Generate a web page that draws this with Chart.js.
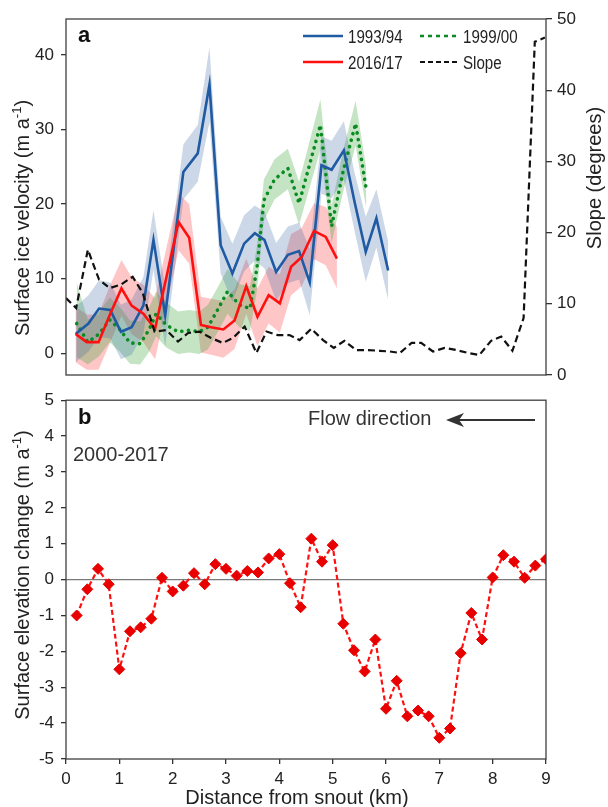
<!DOCTYPE html>
<html>
<head>
<meta charset="utf-8">
<script src="https://cdn.jsdelivr.net/npm/chart.js@4.4.1/dist/chart.umd.min.js"></script>
<style>
  html, body { margin: 0; padding: 0; background: #fff; }
  #wrap { position: relative; width: 608px; height: 807px; overflow: hidden; }
  #chartA { position: absolute; left: 0; top: 0; }
  #chartB { position: absolute; left: 0; top: 383px; }
</style>
</head>
<body>
<div id="wrap">
  <canvas id="chartB" width="608" height="424"></canvas>
  <canvas id="chartA" width="608" height="395"></canvas>
</div>
<script>
const FONT = "'Liberation Sans', Arial, Helvetica, sans-serif";

// ---- Panel a: surface ice velocity (m a-1), distance from snout (km)
const dist9394 = [0.18, 0.42, 0.62, 0.83, 1.03, 1.23, 1.45, 1.64, 1.86, 2.2, 2.47, 2.69, 2.9, 3.12, 3.34, 3.54, 3.72, 3.94, 4.16, 4.37, 4.57, 4.79, 4.98, 5.21, 5.41, 5.62, 5.82, 6.04];
const vel9394  = [2.6, 4.0, 6.0, 5.8, 2.9, 3.5, 6.4, 15.2, 5.1, 24.3, 26.8, 36.0, 14.5, 10.7, 14.7, 16.1, 15.2, 10.9, 13.2, 13.7, 9.5, 25.2, 24.6, 27.2, 20.3, 13.6, 18.1, 11.1];
const hi9394   = [6.2, 7.8, 9.8, 9.5, 6.5, 7.2, 10.2, 19.2, 8.8, 28.0, 30.6, 41.0, 18.3, 14.7, 18.5, 19.8, 19.0, 14.8, 17.0, 17.5, 14.0, 29.1, 28.5, 31.1, 24.2, 18.3, 22.0, 15.0];
const lo9394   = [-1.2, 0.2, 2.2, 2.0, -0.8, -0.2, 2.6, 11.2, 0.9, 20.6, 23.0, 31.0, 10.7, 6.9, 11.0, 12.4, 11.4, 7.0, 9.4, 9.9, 5.1, 21.4, 20.8, 23.3, 16.4, 9.6, 14.2, 7.1];

const dist9900 = [0.2, 0.41, 0.62, 0.82, 1.01, 1.2, 1.39, 1.56, 1.69, 1.88, 2.1, 2.31, 2.5, 2.66, 2.84, 3.03, 3.25, 3.45, 3.58, 3.71, 3.91, 4.16, 4.37, 4.77, 4.98, 5.2, 5.43, 5.63];
const vel9900  = [4.0, 1.5, 2.6, 4.5, 3.2, 1.4, 1.3, 3.2, 5.3, 3.8, 2.9, 3.1, 2.9, 3.5, 5.8, 8.3, 6.5, 6.0, 11.4, 20.5, 23.3, 24.8, 20.1, 30.6, 17.0, 24.5, 30.8, 22.0];
const hi9900   = [9.5, 4.5, 5.6, 7.5, 6.2, 4.4, 4.3, 6.2, 8.3, 6.8, 5.6, 5.8, 5.6, 6.5, 8.8, 11.3, 9.3, 9.0, 14.4, 23.3, 26.0, 27.4, 23.0, 34.0, 19.8, 27.3, 33.8, 24.8];
const lo9900   = [-0.5, -1.5, -0.4, 1.5, 0.2, -1.4, -1.5, 0.2, 2.3, 0.8, -0.1, 0.1, -0.1, 0.5, 2.8, 5.3, 3.5, 3.0, 8.4, 17.8, 20.6, 22.0, 17.2, 27.3, 14.8, 21.8, 27.8, 19.4];

const dist1617 = [0.18, 0.39, 0.61, 0.83, 1.04, 1.23, 1.45, 1.67, 2.11, 2.31, 2.53, 2.72, 2.95, 3.16, 3.38, 3.59, 3.8, 4.01, 4.22, 4.42, 4.65, 4.87, 5.08];
const vel1617  = [2.6, 1.5, 1.5, 5.3, 8.7, 6.4, 5.3, 3.3, 17.6, 15.5, 3.8, 3.5, 3.2, 4.4, 9.0, 4.9, 7.8, 6.7, 11.6, 12.9, 16.4, 15.6, 12.7];
const hi1617   = [6.2, 5.2, 5.2, 9.2, 12.5, 10.2, 9.2, 7.4, 21.4, 20.0, 7.6, 7.3, 7.0, 8.6, 12.7, 8.7, 11.6, 10.6, 16.0, 16.8, 20.1, 19.6, 16.9];
const lo1617   = [-1.2, -2.2, -2.2, 1.5, 5.0, 2.6, 1.5, -0.8, 13.8, 12.0, 0.1, -0.2, -0.6, 0.6, 5.3, 1.0, 4.0, 2.8, 7.8, 9.0, 12.6, 11.8, 8.7];

// slope (degrees), right axis
const distSlope = [0, 0.19, 0.41, 0.62, 0.82, 1.03, 1.25, 1.44, 1.66, 1.88, 2.1, 2.29, 2.5, 2.72, 2.94, 3.13, 3.35, 3.57, 3.76, 3.97, 4.19, 4.38, 4.6, 4.82, 5.02, 5.22, 5.44, 5.66, 5.88, 6.07, 6.26, 6.48, 6.66, 6.88, 7.1, 7.32, 7.54, 7.75, 7.97, 8.16, 8.37, 8.58, 8.79, 8.98];
const slope     = [10.8, 9.4, 17.6, 13.4, 12.2, 12.7, 13.8, 11.5, 6.1, 6.3, 4.7, 5.9, 6.1, 5.2, 4.5, 5.2, 6.8, 3.1, 6.1, 5.6, 5.6, 4.9, 6.5, 4.9, 3.8, 4.8, 3.5, 3.5, 3.4, 3.3, 3.1, 4.5, 4.5, 3.3, 3.8, 3.5, 3.1, 2.8, 4.8, 5.4, 3.4, 8.0, 46.8, 47.4];

// ---- Panel b: surface elevation change 2000-2017 (m a-1)
const distElev = [0.2, 0.4, 0.6, 0.8, 1.0, 1.2, 1.4, 1.6, 1.8, 2.0, 2.2, 2.4, 2.6, 2.8, 3.0, 3.2, 3.4, 3.6, 3.8, 4.0, 4.2, 4.4, 4.6, 4.8, 5.0, 5.2, 5.4, 5.6, 5.8, 6.0, 6.2, 6.4, 6.6, 6.8, 7.0, 7.2, 7.4, 7.6, 7.8, 8.0, 8.2, 8.4, 8.6, 8.8, 9.0];
const elevChange = [-1.0, -0.27, 0.3, -0.13, -2.5, -1.44, -1.33, -1.09, 0.05, -0.33, -0.17, 0.18, -0.13, 0.43, 0.3, 0.11, 0.24, 0.2, 0.59, 0.71, -0.1, -0.77, 1.14, 0.5, 0.96, -1.23, -1.97, -2.56, -1.67, -3.6, -2.82, -3.81, -3.65, -3.81, -4.41, -4.15, -2.05, -0.93, -1.67, 0.06, 0.68, 0.5, 0.05, 0.39, 0.57];

// tick labels
const velTicks = [0, 10, 20, 30, 40];
const slopeTicks = [0, 10, 20, 30, 40, 50];
const elevTicks = [-5, -4, -3, -2, -1, 0, 1, 2, 3, 4, 5];
const distTicks = [0, 1, 2, 3, 4, 5, 6, 7, 8, 9];

const BLUE = '#1f5aa3', RED = '#ff1010', GREEN = '#0a8a22', BLACK = '#111';

function pts(xs, ys) {
  return xs.map((x, i) => ({ x: x, y: ys[i] }));
}
function setTicks(list) {
  return scale => { scale.ticks = list.map(v => ({ value: v })); };
}
function band(xs, lo, hi, fillColor, loIndex) {
  return [
    { data: pts(xs, lo), borderWidth: 0, pointRadius: 0, fill: false, order: 10 },
    { data: pts(xs, hi), borderWidth: 0, pointRadius: 0, fill: loIndex, backgroundColor: fillColor, order: 10 }
  ];
}
const tickFont = { family: FONT, size: 17 };
const axisGrid = { drawOnChartArea: false, tickLength: 5, tickColor: '#333', lineWidth: 1.3 };

function drawVTitle(ctx, xBase, yCenter, main, sup, tail) {
  ctx.save();
  ctx.translate(xBase, yCenter);
  ctx.rotate(-Math.PI / 2);
  ctx.fillStyle = '#222';
  ctx.textAlign = 'left';
  ctx.textBaseline = 'alphabetic';
  ctx.font = '20px ' + FONT;
  const w1 = ctx.measureText(main).width;
  const w3 = tail ? ctx.measureText(tail).width : 0;
  ctx.font = '13px ' + FONT;
  const w2 = sup ? ctx.measureText(sup).width : 0;
  let x = -(w1 + w2 + w3) / 2;
  ctx.font = '20px ' + FONT;
  ctx.fillText(main, x, 0);
  x += w1;
  if (sup) {
    ctx.font = '13px ' + FONT;
    ctx.fillText(sup, x, -8);
    x += w2;
  }
  if (tail) {
    ctx.font = '20px ' + FONT;
    ctx.fillText(tail, x, 0);
  }
  ctx.restore();
}

// narrow legend text: squeeze horizontally
function narrowText(ctx, text, x, y) {
  ctx.save();
  ctx.translate(x, y);
  ctx.scale(0.84, 1);
  ctx.fillText(text, 0, 0);
  ctx.restore();
}

function drawFrame(chart) {
  const ctx = chart.ctx, a = chart.chartArea;
  ctx.save();
  ctx.strokeStyle = '#404040';
  ctx.lineWidth = 1.3;
  ctx.strokeRect(a.left, a.top, a.right - a.left, a.bottom - a.top);
  ctx.restore();
}

// Decorations for panel a
const decorA = {
  id: 'decorA',
  afterDraw(chart) {
    const ctx = chart.ctx;
    drawFrame(chart);
    ctx.save();
    ctx.fillStyle = '#111';
    ctx.font = 'bold 22px ' + FONT;
    ctx.fillText('a', 78, 42);

    // legend
    const ds = chart.data.datasets;
    const items = [
      { d: ds[7], x0: 303, x1: 343, y: 36, tx: 348, dash: [] },
      { d: ds[6], x0: 420, x1: 456, y: 36, tx: 463, dash: [4, 4] },
      { d: ds[8], x0: 303, x1: 343, y: 62, tx: 348, dash: [] },
      { d: ds[9], x0: 420, x1: 457, y: 62, tx: 463, dash: [5, 3] }
    ];
    items.forEach(it => {
      ctx.beginPath();
      ctx.setLineDash(it.dash);
      ctx.lineCap = 'butt';
      ctx.strokeStyle = it.d.borderColor;
      ctx.lineWidth = it.d === ds[9] ? 2.2 : 2.6;
      ctx.moveTo(it.x0, it.y);
      ctx.lineTo(it.x1, it.y);
      ctx.stroke();
      ctx.setLineDash([]);
      ctx.fillStyle = '#222';
      ctx.font = '18px ' + FONT;
      ctx.textBaseline = 'alphabetic';
      narrowText(ctx, it.d.label, it.tx, it.y + 7);
    });
    ctx.restore();

    drawVTitle(ctx, 29, 218, 'Surface ice velocity (m a', '-1', ')');
    drawVTitle(ctx, 601, 178, 'Slope (degrees)');
  }
};

// Decorations for panel b
const decorB = {
  id: 'decorB',
  afterDraw(chart) {
    const ctx = chart.ctx;
    drawFrame(chart);
    ctx.save();
    ctx.fillStyle = '#111';
    ctx.font = 'bold 22px ' + FONT;
    ctx.fillText('b', 78, 41);
    ctx.fillStyle = '#333';
    ctx.font = '20px ' + FONT;
    ctx.fillText('2000-2017', 73, 78);
    ctx.fillText('Flow direction', 308, 42);

    // arrow
    ctx.strokeStyle = '#333';
    ctx.fillStyle = '#333';
    ctx.lineWidth = 2;
    ctx.beginPath();
    ctx.moveTo(535, 37);
    ctx.lineTo(458, 37);
    ctx.stroke();
    ctx.beginPath();
    ctx.moveTo(446, 37);
    ctx.lineTo(464, 30);
    ctx.lineTo(459, 37);
    ctx.lineTo(464, 44);
    ctx.closePath();
    ctx.fill();

    ctx.fillStyle = '#222';
    ctx.font = '20px ' + FONT;
    ctx.textAlign = 'center';
    ctx.fillText('Distance from snout (km)', 297, 421);
    ctx.restore();

    drawVTitle(ctx, 29, 192, 'Surface elevation change (m a', '-1', ')');
  }
};

const datasetsA = [].concat(
  band(dist9394, lo9394, hi9394, 'rgba(40, 90, 160, 0.24)', 0),
  band(dist9900, lo9900, hi9900, 'rgba(60, 165, 60, 0.30)', 2),
  band(dist1617, lo1617, hi1617, 'rgba(250, 50, 50, 0.28)', 4),
  [
    { label: '1999/00', data: pts(dist9900, vel9900), borderColor: GREEN, borderWidth: 3.6,
      borderDash: [0.1, 6.6], borderCapStyle: 'round', pointRadius: 0, fill: false, order: 3 },
    { label: '1993/94', data: pts(dist9394, vel9394), borderColor: BLUE, borderWidth: 2.6,
      pointRadius: 0, fill: false, order: 2 },
    { label: '2016/17', data: pts(dist1617, vel1617), borderColor: RED, borderWidth: 2.6,
      pointRadius: 0, fill: false, order: 1 },
    { label: 'Slope', data: pts(distSlope, slope), yAxisID: 'y2', borderColor: BLACK, borderWidth: 2.2,
      borderDash: [7, 4], pointRadius: 0, fill: false, order: 0 }
  ]
);

new Chart(document.getElementById('chartA'), {
  type: 'line',
  data: { datasets: datasetsA },
  options: {
    responsive: false,
    animation: false,
    layout: { padding: { top: 19, bottom: 20, left: 0, right: 0 } },
    plugins: { legend: { display: false }, tooltip: { enabled: false } },
    elements: { line: { tension: 0 }, point: { radius: 0 } },
    scales: {
      x: { type: 'linear', min: 0, max: 9, display: false },
      y: {
        position: 'left', min: -2.9, max: 44.8,
        afterBuildTicks: setTicks(velTicks),
        afterFit: s => { s.width = 66; },
        grid: axisGrid, border: { display: false },
        ticks: { font: tickFont, color: '#222', padding: 7 }
      },
      y2: {
        position: 'right', min: 0, max: 50,
        afterBuildTicks: setTicks(slopeTicks),
        afterFit: s => { s.width = 62; },
        grid: Object.assign({}, axisGrid, { tickLength: 6 }), border: { display: false },
        ticks: { font: tickFont, color: '#222', padding: 5 }
      }
    }
  },
  plugins: [decorA]
});

new Chart(document.getElementById('chartB'), {
  type: 'line',
  data: {
    datasets: [{
      label: 'Elevation change',
      data: pts(distElev, elevChange),
      borderColor: RED, borderWidth: 2.2, borderDash: [5, 3],
      pointStyle: 'rectRot', pointRadius: 5.5,
      pointBackgroundColor: '#e80000', pointBorderColor: '#e80000', pointBorderWidth: 1,
      fill: false, tension: 0
    }]
  },
  options: {
    responsive: false,
    animation: false,
    layout: { padding: { top: 14, bottom: 0, left: 0, right: 62 } },
    plugins: { legend: { display: false }, tooltip: { enabled: false } },
    scales: {
      x: {
        type: 'linear', min: 0, max: 9,
        afterBuildTicks: setTicks(distTicks),
        afterFit: s => { s.height = 48; },
        grid: axisGrid, border: { display: false },
        ticks: { font: tickFont, color: '#222', padding: 5 }
      },
      y: {
        min: -5, max: 5,
        afterBuildTicks: setTicks(elevTicks),
        afterFit: s => { s.width = 66; },
        grid: {
          drawOnChartArea: true, tickLength: 5, tickColor: '#333', lineWidth: 1.3,
          color: c => (c.tick && c.tick.value === 0) ? '#7a7a7a' : 'rgba(0,0,0,0)'
        },
        border: { display: false },
        ticks: { font: tickFont, color: '#222', padding: 7 }
      }
    }
  },
  plugins: [decorB]
});
</script>
</body>
</html>
